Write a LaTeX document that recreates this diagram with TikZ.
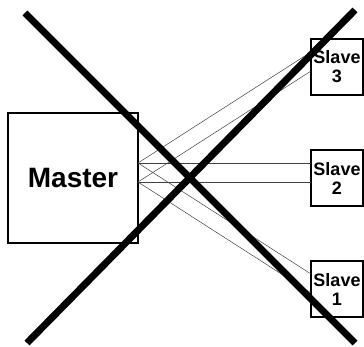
\documentclass[tikz,border=0pt]{standalone}
\usepackage{fontspec}
\setmainfont{Liberation Sans}
\usetikzlibrary{positioning, calc}

\begin{document}
\begin{tikzpicture}[x=1pt, y=-1pt,
    box/.style={draw, line width=2.6pt, inner sep=0pt, outer sep=0pt, align=center},
    wire/.style={line width=0.5pt, black!75},
    cross/.style={line width=7pt}]
    \useasboundingbox (0,0) rectangle (364,347);

    \node[box, minimum width=130, minimum height=130, font=\fontsize{28}{30}\bfseries] (master) at (73,178) {Master};
    \node[box, minimum width=52, minimum height=56, font=\fontsize{18}{19}\bfseries] (slave3) at (337,67) {Slave\\3};
    \node[box, minimum width=52, minimum height=56, font=\fontsize{18}{19}\bfseries] (slave2) at (337,178) {Slave\\2};
    \node[box, minimum width=52, minimum height=56, font=\fontsize{18}{19}\bfseries] (slave1) at (337,289) {Slave\\1};

    % two lines to every slave
    \foreach \i in {1,2,3} {
        \draw[wire] ($(master.east)+(0,-15)$) -- ($(slave\i.west)+(0,-15)$);
        \draw[wire] ($(master.east)+(0,4)$) -- ($(slave\i.west)+(0,4)$);
    }

    \draw[cross] (25,13) -- (355,343);
    \draw[cross] (355,10) -- (27,343);
\end{tikzpicture}
\end{document}
